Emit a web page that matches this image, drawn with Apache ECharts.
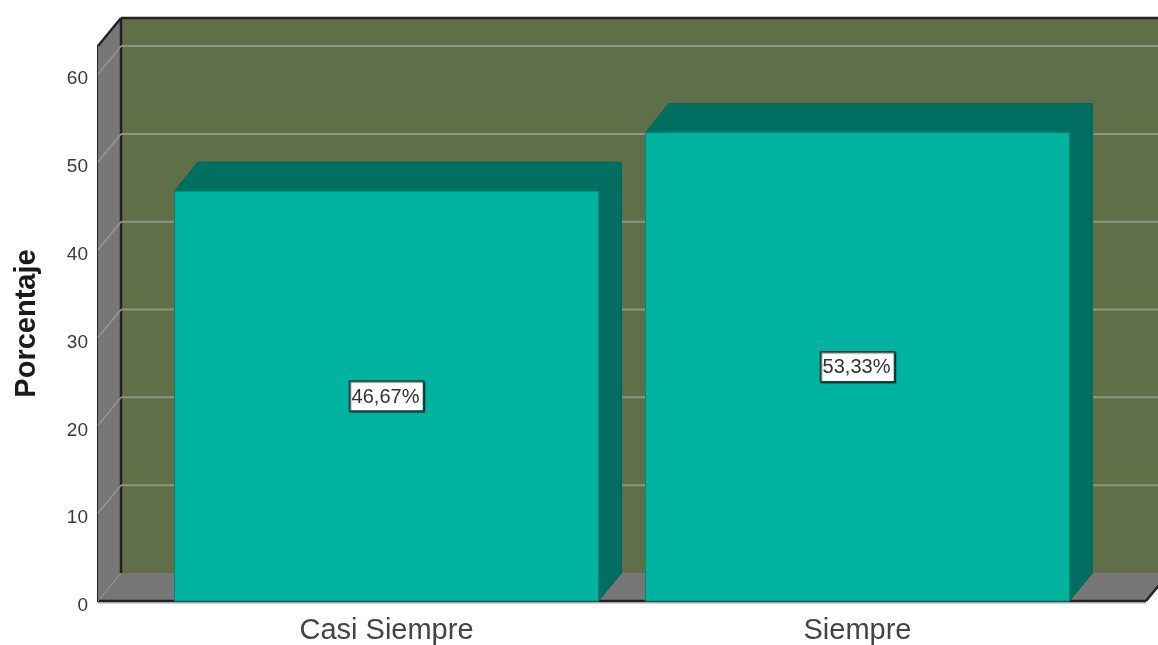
<!DOCTYPE html>
<html><head><meta charset="utf-8">
<style>html,body{margin:0;padding:0;background:#fff}#c{width:1158px;height:645px;filter:blur(0.5px)}</style>
<script src="https://cdn.jsdelivr.net/npm/echarts@6/dist/echarts.min.js"></script>
</head><body><div id="c"></div>
<script>
var categories = ['Casi Siempre', 'Siempre'];
var percentages = [46.67, 53.33];
var gridTicks = [10, 20, 30, 40, 50, 60];
var yAxisTitle = 'Porcentaje';

var DX = 23, DY = 28, AXIS_OFFSET = 53, FLOOR_WIDTH = 1048;
var WALL = '#5f6f48', SIDE = '#777777', FRONT = '#00b3a0', DARK = '#006e60', EDGE = '#008a7a', INK = '#222222';
var FONT = '"Liberation Sans", Arial, sans-serif';

function poly(pts, fill, stroke) {
  return {type: 'polygon', shape: {points: pts}, style: {fill: fill, stroke: stroke || null, lineWidth: stroke ? 1 : 0}};
}
function line(x1, y1, x2, y2, color, w) {
  return {type: 'line', shape: {x1: x1, y1: y1, x2: x2, y2: y2}, style: {stroke: color, lineWidth: w, fill: null}};
}

function renderRoom(params, api) {
  var cs = params.coordSys;
  var L = cs.x - AXIS_OFFSET, R = L + FLOOR_WIDTH, T = cs.y, B = cs.y + cs.height;
  return {type: 'group', children: [
    poly([[L + DX, T - DY], [R + DX, T - DY], [R + DX, B - DY], [L + DX, B - DY]], WALL),
    poly([[L, T], [L + DX, T - DY], [L + DX, B - DY], [L, B]], SIDE),
    poly([[L, B], [L + DX, B - DY], [R + DX, B - DY], [R, B]], SIDE),
    line(L, B + 2, R, B + 2, '#c4c4c4', 1.5),
    line(L + DX, T - DY, L + DX, B - DY, INK, 2.5),
    line(L + DX, T - DY, R + DX, T - DY, INK, 2.5),
    line(L, T, L + DX, T - DY, INK, 2.5),
    line(L, B, R, B, INK, 2.5),
    line(R, B, R + DX, B - DY, INK, 2.5),
    {type: 'line', shape: {x1: L, y1: B, x2: L + DX, y2: B - DY}, style: {stroke: '#999999', lineWidth: 1, lineDash: [2, 2], fill: null}}
  ]};
}
function renderGridLine(params, api) {
  var cs = params.coordSys;
  var L = cs.x - AXIS_OFFSET, R = L + FLOOR_WIDTH;
  var y = api.coord([0, api.value(1)])[1];
  return {type: 'group', children: [
    line(L, y, L + DX, y - DY, '#979797', 1.5),
    line(L + DX, y - DY, R + DX, y - DY, '#8f9482', 2)
  ]};
}
function renderBar(params, api) {
  var p = api.coord([api.value(0), api.value(1)]);
  var base = api.coord([api.value(0), 0]);
  var w = api.size([1, 0])[0] * 0.9;
  var x0 = p[0] - w / 2, x1 = p[0] + w / 2, t = p[1], b = base[1];
  var txt = api.value(1).toFixed(2).replace('.', ',') + '%';
  var my = (t + b) / 2;
  return {type: 'group', children: [
    poly([[x0, t], [x0 + DX, t - DY - 1], [x1 + DX, t - DY - 1], [x1, t]], DARK, '#00665a'),
    poly([[x1, t], [x1 + DX, t - DY - 1], [x1 + DX, b - DY], [x1, b]], DARK, '#00665a'),
    {type: 'rect', shape: {x: x0, y: t, width: w, height: b - t}, style: {fill: FRONT, stroke: EDGE, lineWidth: 1}},
    {type: 'rect', shape: {x: p[0] - 37, y: my - 15, width: 74, height: 30}, style: {fill: '#ffffff', stroke: '#1f3f3a', lineWidth: 1.5, shadowColor: 'rgba(0,0,0,0.55)', shadowBlur: 1, shadowOffsetX: 1, shadowOffsetY: 1}},
    {type: 'text', style: {text: txt, x: p[0] - 1, y: my + 1, align: 'center', verticalAlign: 'middle', font: '20px ' + FONT, fill: '#333333'}}
  ]};
}

var chart = echarts.init(document.getElementById('c'), null, {renderer: 'canvas'});
chart.setOption({
  animation: false,
  grid: {left: 151, width: 942, top: 46, height: 555, containLabel: false},
  xAxis: {
    type: 'category', data: categories,
    axisLine: {show: false}, axisTick: {show: false}, splitLine: {show: false},
    axisLabel: {color: '#444444', fontSize: 29, margin: 15, fontFamily: FONT, interval: 0}
  },
  yAxis: {
    type: 'value', min: 0, max: 63.2, interval: 10, offset: AXIS_OFFSET,
    name: yAxisTitle, nameLocation: 'middle', nameGap: 57, nameRotate: 90,
    nameTextStyle: {color: '#1a1a1a', fontSize: 29, fontWeight: 'bold', fontFamily: FONT},
    axisLine: {show: true, onZero: false, lineStyle: {color: INK, width: 3}},
    axisTick: {show: false}, splitLine: {show: false},
    axisLabel: {color: '#3a3a3a', fontSize: 19, margin: 10, verticalAlign: 'top', lineHeight: 10, showMaxLabel: false, fontFamily: FONT}
  },
  series: [
    {type: 'custom', name: 'room', clip: false, silent: true, renderItem: renderRoom, data: [[0, 0]], encode: {x: 0, y: 1}},
    {type: 'custom', name: 'gridlines', clip: false, silent: true, renderItem: renderGridLine, data: gridTicks.map(function (v) { return [0, v]; }), encode: {x: 0, y: 1}},
    {type: 'custom', name: 'Porcentaje', clip: false, renderItem: renderBar, data: percentages.map(function (v, i) { return [i, v]; }), encode: {x: 0, y: 1}}
  ]
});
</script></body></html>
